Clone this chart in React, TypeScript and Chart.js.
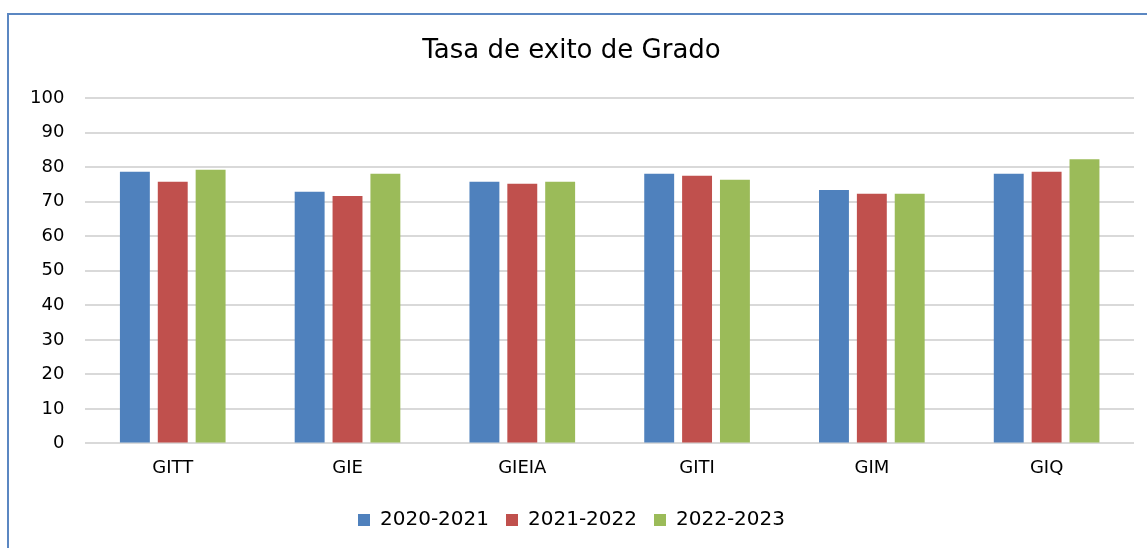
import React, { useEffect, useRef } from "react";
import { Chart, registerables } from "chart.js";

Chart.register(...registerables);

const categories = ["GITT", "GIE", "GIEIA", "GITI", "GIM", "GIQ"];
const seriesNames = ["2020-2021", "2021-2022", "2022-2023"];
const values2020 = [78.7, 72.9, 75.8, 78.1, 73.4, 78.1];
const values2021 = [75.8, 71.7, 75.2, 77.5, 72.3, 78.7];
const values2022 = [79.3, 78.1, 75.8, 76.4, 72.3, 82.3];
const colors = ["#4f81bd", "#c0504d", "#9bbb59"];
const FONT = "'DejaVu Sans', sans-serif";

export default function App() {
  const ref = useRef<HTMLCanvasElement | null>(null);
  useEffect(() => {
    if (!ref.current) return;
    const chart = new Chart(ref.current, {
      type: "bar",
      data: {
        labels: categories,
        datasets: [values2020, values2021, values2022].map((d, i) => ({
          label: seriesNames[i],
          data: d,
          backgroundColor: colors[i],
          borderWidth: 0,
          categoryPercentage: 0.65,
          barPercentage: 0.79,
        })),
      },
      options: {
        animation: false,
        responsive: false,
        layout: { padding: { left: 9, right: 13, top: 0, bottom: 8 } },
        plugins: {
          title: {
            display: true,
            text: "Tasa de exito de Grado",
            color: "#000",
            font: { family: FONT, size: 26, weight: "normal" },
            padding: { top: 36, bottom: 31 },
          },
          legend: {
            position: "bottom",
            labels: {
              color: "#000",
              font: { family: FONT, size: 20 },
              boxWidth: 12,
              boxHeight: 12,
              padding: 17,
            },
          },
          tooltip: { enabled: false },
        },
        scales: {
          x: {
            grid: { display: false, drawTicks: false },
            border: { display: false },
            ticks: { color: "#000", font: { family: FONT, size: 18 }, padding: 14 },
          },
          y: {
            min: 0,
            max: 100,
            ticks: { stepSize: 10, color: "#000", font: { family: FONT, size: 18 }, padding: 21 },
            grid: { color: "#d9d9d9", lineWidth: 2, drawTicks: false },
            border: { display: false },
          },
        },
      },
    });
    return () => chart.destroy();
  }, []);
  return (
    <div style={{ position: "fixed", left: 0, top: 0, width: 1147, height: 548, background: "#fff", overflow: "hidden" }}>
      <div style={{ position: "absolute", left: 7, top: 13, width: 1160, height: 560, borderLeft: "2px solid #5b87c2", borderTop: "2px solid #5b87c2" }} />
      <canvas ref={ref} width={1147} height={548} style={{ position: "absolute", left: 0, top: 0 }} />
    </div>
  );
}
